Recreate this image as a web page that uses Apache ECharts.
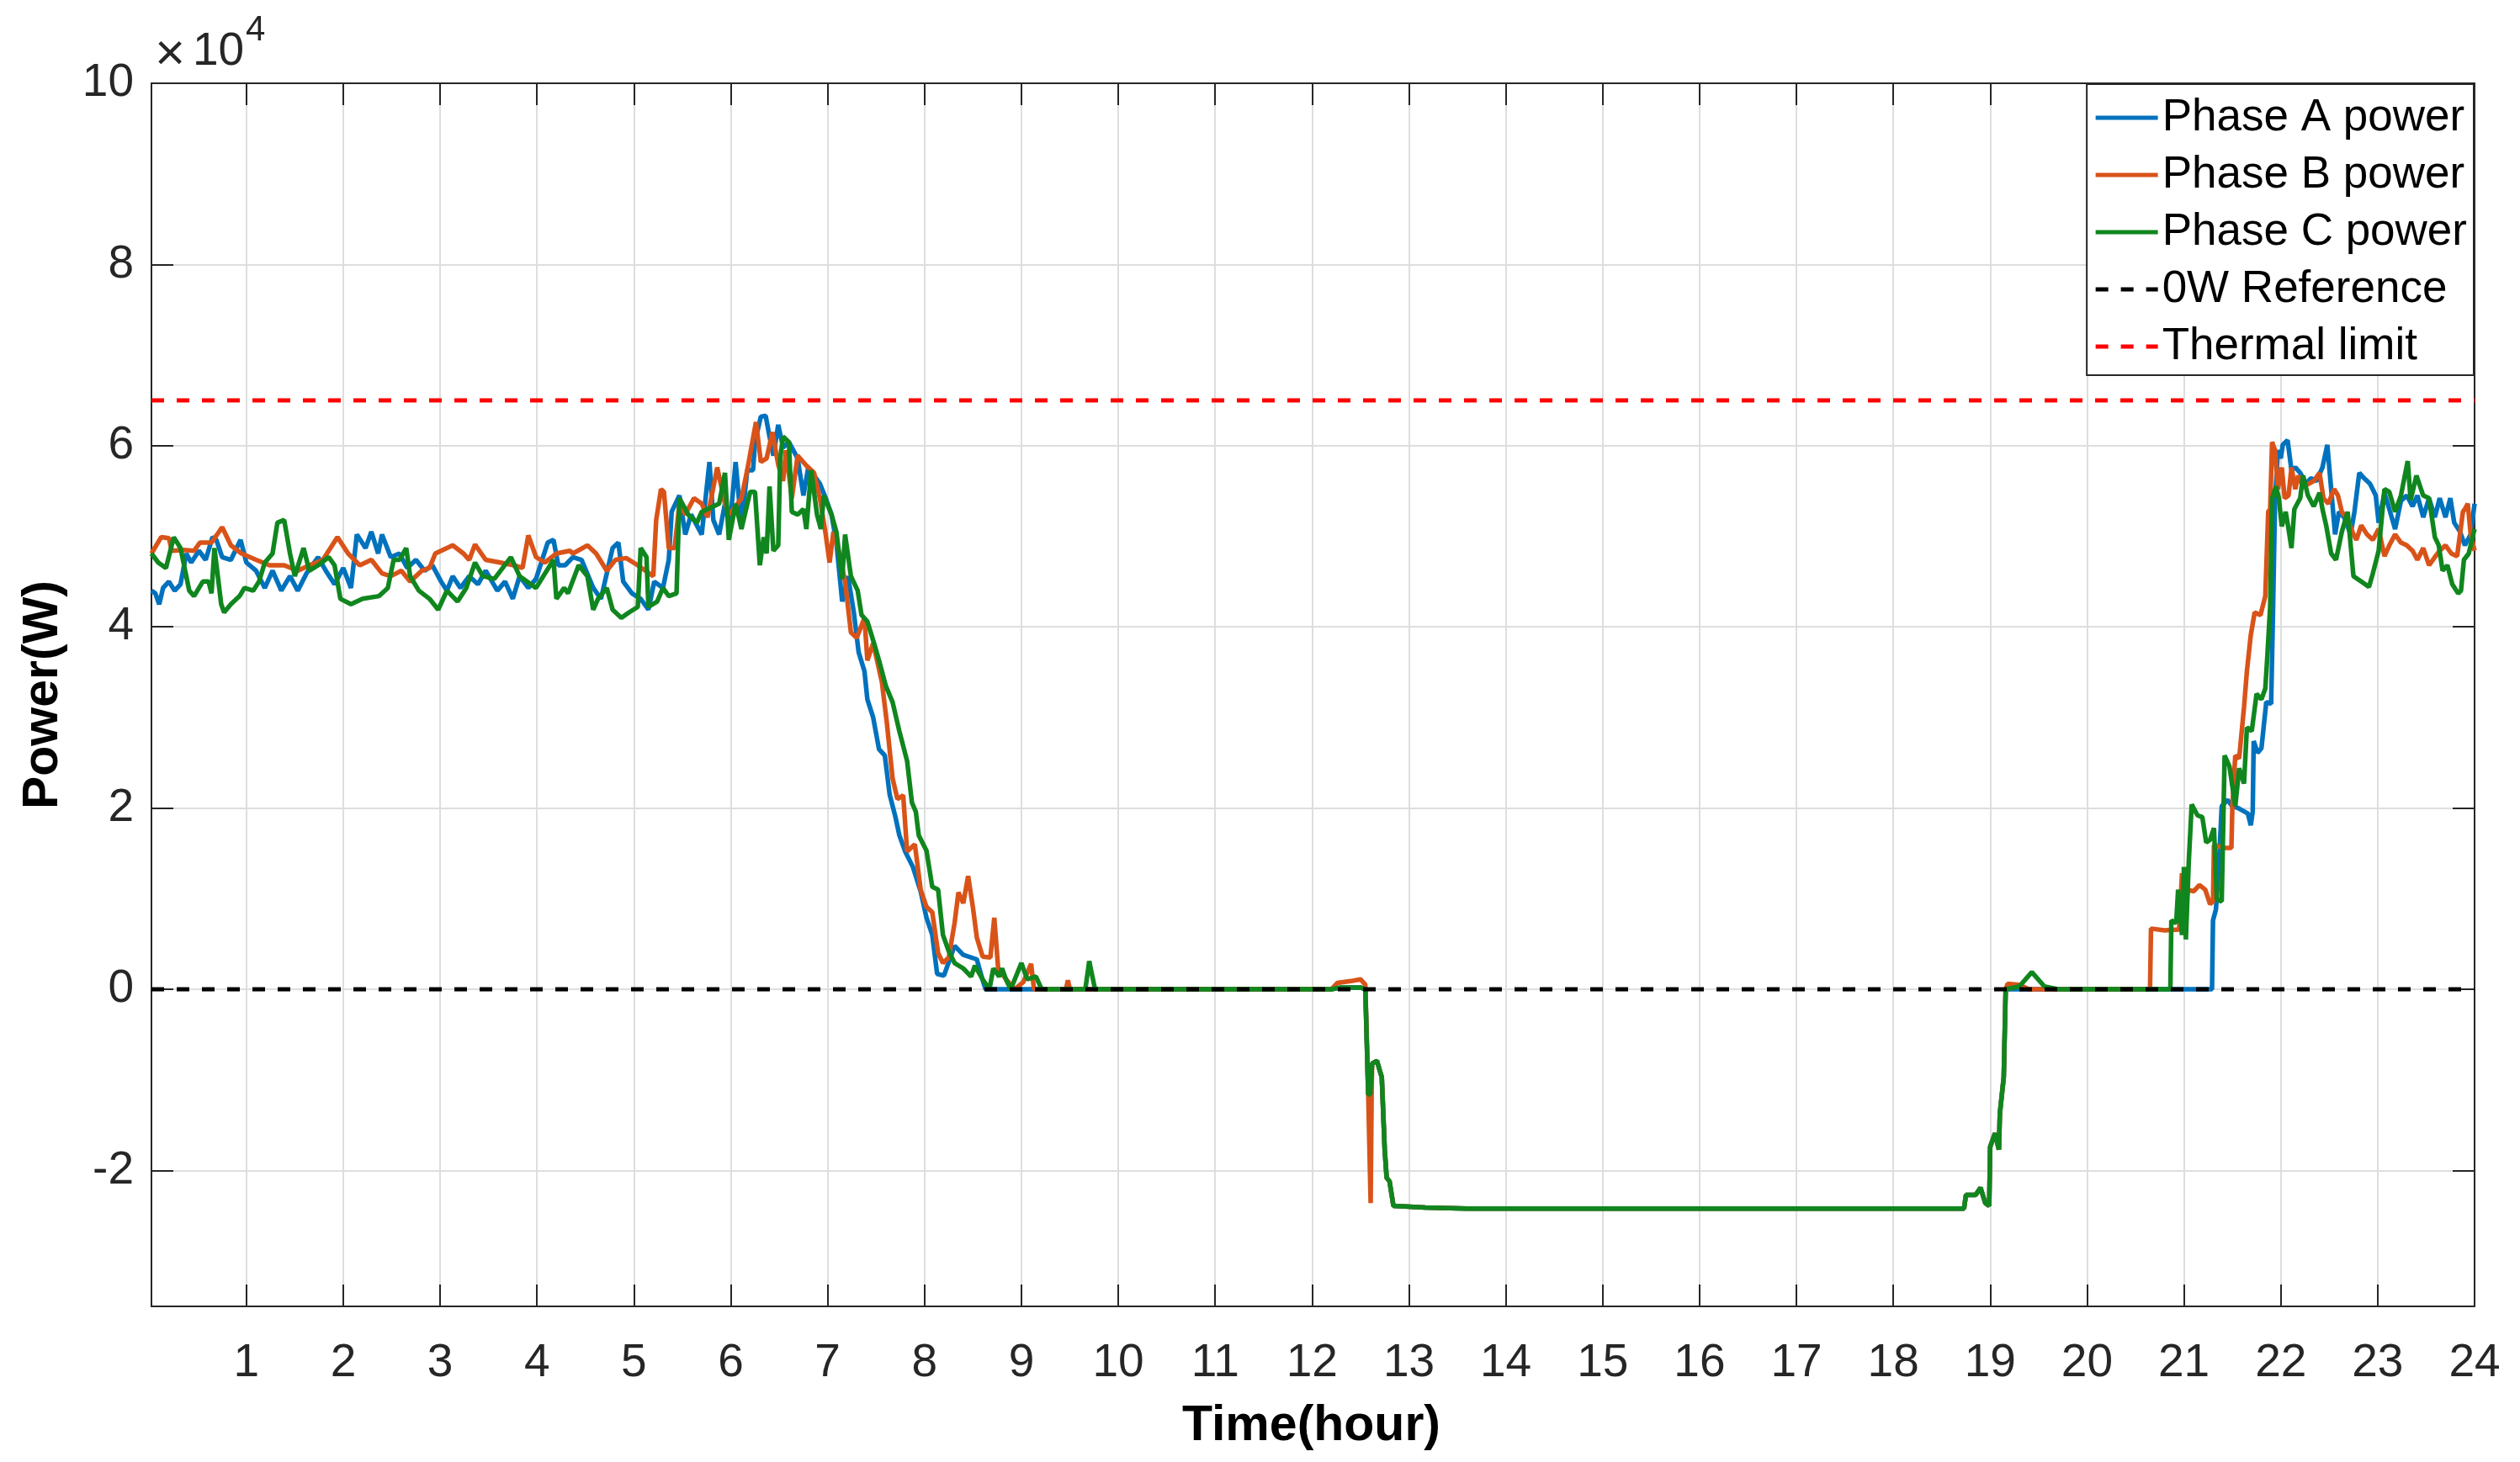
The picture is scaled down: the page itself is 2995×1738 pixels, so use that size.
<!DOCTYPE html>
<html>
<head>
<meta charset="utf-8">
<script src="https://cdn.jsdelivr.net/npm/echarts@6/dist/echarts.min.js"></script>
<style>
  html, body { margin: 0; padding: 0; background: #fff; }
  #ec { width: 2995px; height: 1738px; }
</style>
</head>
<body>
<div id="ec"></div>
<script>
// [hour, power in W]
const phaseA = [
  [0.02, 44000], [0.06, 43700], [0.10, 42500], [0.14, 44300], [0.20, 45000], [0.26, 44000], [0.32, 44700],
  [0.38, 48100], [0.43, 47100], [0.51, 48400], [0.58, 47400], [0.65, 49900], [0.69, 49600], [0.75, 47700],
  [0.84, 47400], [0.94, 49600], [1.00, 47100], [1.10, 46200], [1.19, 44300], [1.27, 46200], [1.36, 44000],
  [1.45, 45600], [1.53, 44000], [1.62, 45900], [1.74, 47700], [1.82, 46200], [1.91, 44700], [2.00, 46500],
  [2.08, 44300], [2.14, 50200], [2.23, 48700], [2.29, 50500], [2.36, 48100], [2.40, 50200], [2.49, 47700],
  [2.58, 48100], [2.66, 46500], [2.75, 47400], [2.84, 46200], [2.92, 46800], [3.01, 45000], [3.07, 44000],
  [3.13, 45600], [3.21, 44300], [3.30, 45600], [3.39, 44700], [3.47, 46200], [3.59, 44000], [3.67, 45000],
  [3.75, 43100], [3.82, 45600], [3.91, 44300], [3.99, 45300], [4.11, 49300], [4.17, 49600], [4.22, 46800],
  [4.29, 46800], [4.37, 47700], [4.46, 47400], [4.58, 44300], [4.66, 43100], [4.78, 48700], [4.84, 49300],
  [4.89, 45000], [4.98, 43700], [5.07, 43100], [5.15, 41900], [5.21, 45000], [5.30, 44300], [5.36, 47400],
  [5.39, 52700], [5.47, 54500], [5.53, 50200], [5.59, 52400], [5.70, 50200], [5.78, 58200], [5.82, 51800],
  [5.88, 50200], [5.94, 53600], [5.99, 51100], [6.05, 58200], [6.11, 51100], [6.17, 57300], [6.23, 57300],
  [6.25, 60400], [6.31, 63200], [6.36, 63300], [6.40, 61000], [6.44, 58900], [6.49, 62300], [6.54, 59800],
  [6.60, 60400], [6.69, 58600], [6.75, 54500], [6.80, 57600], [6.86, 56700], [6.92, 55800], [6.98, 54200],
  [7.04, 52400], [7.09, 49300], [7.15, 42800], [7.21, 45600], [7.27, 41600], [7.32, 37200], [7.38, 35100],
  [7.41, 32000], [7.47, 30000], [7.53, 26500], [7.59, 25800], [7.64, 21500], [7.70, 19000], [7.74, 17000],
  [7.80, 15200], [7.88, 13500], [7.96, 10800], [8.02, 7900], [8.08, 6000], [8.13, 1700], [8.20, 1500],
  [8.25, 3000], [8.31, 4800], [8.40, 3800], [8.54, 3300], [8.60, 1000], [8.63, 0],
  [12.20, 0], [12.30, 200], [12.50, 200], [12.55, 0], [12.58, -11600], [12.60, -11600]
];
const phaseB = [
  [0.02, 48100], [0.12, 49900], [0.20, 49800], [0.23, 48400], [0.35, 48500], [0.46, 48400], [0.52, 49300],
  [0.64, 49300], [0.75, 51000], [0.84, 49000], [0.95, 48100], [1.10, 47400], [1.24, 46800], [1.39, 46800],
  [1.53, 46200], [1.65, 46800], [1.79, 47400], [1.94, 49900], [2.05, 48100], [2.17, 46800], [2.29, 47400],
  [2.40, 45900], [2.49, 45600], [2.60, 46200], [2.69, 45000], [2.81, 46200], [2.89, 46500], [2.95, 48100],
  [3.07, 48700], [3.13, 49000], [3.24, 48100], [3.30, 47400], [3.36, 49100], [3.47, 47400], [3.62, 47100],
  [3.76, 46800], [3.85, 46500], [3.91, 50100], [3.99, 47700], [4.08, 47100], [4.20, 48100], [4.34, 48400],
  [4.37, 48100], [4.52, 49000], [4.61, 48100], [4.72, 46200], [4.81, 47400], [4.92, 47600], [5.04, 46800],
  [5.20, 45600], [5.23, 51800], [5.28, 55200], [5.31, 54900], [5.36, 48700], [5.42, 48700], [5.47, 53600],
  [5.53, 52400], [5.62, 54200], [5.70, 53600], [5.76, 52100], [5.86, 57600], [5.94, 53600], [5.99, 52400],
  [6.11, 54200], [6.17, 57300], [6.26, 62600], [6.31, 58200], [6.37, 58600], [6.43, 61500], [6.49, 57900],
  [6.54, 56100], [6.57, 59500], [6.63, 54200], [6.69, 58900], [6.78, 57800], [6.86, 57000], [6.92, 54200],
  [6.98, 50200], [7.02, 47100], [7.06, 50500], [7.12, 48100], [7.18, 45000], [7.24, 39400], [7.30, 38800],
  [7.38, 41000], [7.41, 36300], [7.47, 38200], [7.56, 33900], [7.61, 29500], [7.67, 23300], [7.72, 21000],
  [7.78, 21400], [7.82, 15200], [7.90, 16000], [7.96, 11000], [8.02, 9100], [8.08, 8500], [8.14, 4000],
  [8.19, 2900], [8.25, 3500], [8.31, 7300], [8.35, 10700], [8.40, 9500], [8.45, 12500], [8.50, 9000],
  [8.54, 5700], [8.60, 3600], [8.68, 3500], [8.72, 7900], [8.76, 2300], [8.85, 1000], [8.93, 0],
  [9.02, 800], [9.10, 2800], [9.13, 0], [9.46, 0], [9.48, 1000], [9.50, 0],
  [12.20, 0], [12.26, 700], [12.40, 900], [12.50, 1100], [12.55, 500], [12.58, -11600], [12.605, -23600],
  [12.615, -11600]
];
const phaseC = [
  [0.02, 48100], [0.09, 47100], [0.17, 46500], [0.25, 49900], [0.32, 48700], [0.41, 44000], [0.46, 43400],
  [0.55, 45000], [0.61, 45000], [0.64, 43700], [0.67, 48700], [0.74, 42500], [0.77, 41600], [0.84, 42500],
  [0.93, 43400], [0.98, 44300], [1.07, 44000], [1.13, 45000], [1.19, 47100], [1.27, 48100], [1.32, 51500],
  [1.39, 51800], [1.45, 48100], [1.50, 45600], [1.59, 48700], [1.65, 46200], [1.74, 46800], [1.85, 47700],
  [1.91, 46800], [1.97, 43100], [2.08, 42500], [2.20, 43100], [2.37, 43400], [2.46, 44300], [2.52, 47400],
  [2.58, 47400], [2.65, 48700], [2.69, 45600], [2.78, 44000], [2.89, 43100], [2.98, 41900], [3.07, 44000],
  [3.18, 42800], [3.27, 44300], [3.36, 47100], [3.44, 45600], [3.56, 45300], [3.73, 47700], [3.82, 45600],
  [3.99, 44300], [4.17, 47400], [4.20, 43100], [4.28, 44300], [4.32, 43700], [4.43, 46800], [4.52, 45600],
  [4.58, 41900], [4.63, 43100], [4.72, 44300], [4.78, 41900], [4.87, 41000], [4.95, 41600], [5.04, 42200],
  [5.07, 48700], [5.13, 47700], [5.15, 42200], [5.24, 42800], [5.30, 44300], [5.36, 43400], [5.44, 43700],
  [5.47, 54200], [5.56, 52400], [5.65, 51500], [5.70, 52700], [5.76, 53000], [5.88, 53600], [5.94, 57000],
  [5.98, 49600], [6.05, 53600], [6.11, 50800], [6.20, 54900], [6.25, 54900], [6.30, 46800], [6.34, 49900],
  [6.37, 48100], [6.40, 55500], [6.44, 48400], [6.49, 49000], [6.51, 58600], [6.54, 61000], [6.60, 60400],
  [6.63, 52700], [6.69, 52400], [6.75, 53000], [6.78, 50800], [6.83, 57300], [6.89, 52400], [6.93, 50800],
  [6.96, 54500], [7.04, 52400], [7.09, 50500], [7.15, 45300], [7.18, 50200], [7.24, 45600], [7.31, 44000],
  [7.35, 41300], [7.41, 40600], [7.47, 38500], [7.53, 36300], [7.60, 33500], [7.67, 31700], [7.74, 28500],
  [7.82, 25200], [7.87, 20600], [7.91, 19600], [7.94, 17000], [8.02, 15300], [8.08, 11300], [8.14, 11000],
  [8.19, 6000], [8.25, 4200], [8.31, 2900], [8.40, 2300], [8.48, 1400], [8.52, 2600], [8.60, 1100],
  [8.67, 0], [8.71, 2300], [8.77, 1400], [8.80, 2300], [8.84, 1100], [8.89, 0], [9.00, 2900], [9.06, 1100],
  [9.15, 1400], [9.21, 0], [9.66, 0], [9.70, 3100], [9.76, 0],
  [12.20, 0], [12.30, 200], [12.50, 200], [12.55, 0], [12.58, -11600], [12.60, -11600]
];
// night section, the three phases lie on top of each other
const discharge = [
  [12.62, -8200], [12.67, -7900], [12.70, -9000], [12.72, -9700], [12.75, -17700], [12.77, -20800],
  [12.80, -21200], [12.84, -23900], [13.17, -24100], [13.60, -24200], [18.73, -24200], [18.75, -22700],
  [18.85, -22700], [18.90, -21900], [18.95, -23600], [18.99, -23900], [19.00, -17400], [19.05, -15900],
  [19.09, -17700], [19.10, -13700], [19.14, -9700], [19.16, 0]
];
const eveningA = [
  [19.30, 0], [21.29, 0], [21.30, 7600], [21.33, 8800], [21.36, 13500], [21.39, 20200], [21.45, 20900],
  [21.50, 20200], [21.56, 20000], [21.66, 19400], [21.69, 18100], [21.71, 19600], [21.72, 27400], [21.76, 26100],
  [21.80, 26600], [21.85, 31700], [21.90, 31500], [21.92, 41900], [21.94, 53600], [21.97, 59500], [22.00, 58600],
  [22.02, 60100], [22.07, 60600], [22.11, 57300], [22.15, 57600], [22.20, 57000], [22.26, 55800], [22.31, 56400],
  [22.37, 56100], [22.43, 57600], [22.48, 60100], [22.52, 55200], [22.56, 50200], [22.60, 52700], [22.66, 52000],
  [22.72, 50200], [22.76, 52700], [22.81, 57000], [22.86, 56400], [22.92, 55800], [22.98, 54500], [23.01, 51500],
  [23.07, 54800], [23.12, 53000], [23.18, 50800], [23.24, 53900], [23.30, 54500], [23.36, 53300], [23.41, 54500],
  [23.47, 52100], [23.53, 54200], [23.59, 52100], [23.64, 54200], [23.70, 52100], [23.75, 54200], [23.79, 51500],
  [23.85, 50500], [23.90, 49000], [23.96, 50200], [24.00, 53600]
];
const eveningB = [
  [19.18, 600], [19.30, 500], [19.40, 0], [20.65, 0], [20.66, 6700], [20.80, 6500], [20.95, 6600], [20.98, 12800],
  [21.00, 6600], [21.04, 11000], [21.10, 10800], [21.16, 11500], [21.22, 11000], [21.27, 9400], [21.30, 9700],
  [21.31, 15900], [21.42, 15600], [21.49, 15600], [21.50, 20200], [21.53, 25800], [21.57, 25500], [21.62, 31100],
  [21.65, 35100], [21.69, 39100], [21.73, 41600], [21.79, 41300], [21.84, 43400], [21.87, 52700], [21.89, 53000],
  [21.91, 60400], [21.94, 59500], [21.97, 55200], [22.01, 57600], [22.04, 54200], [22.08, 54500], [22.11, 57600],
  [22.15, 55200], [22.18, 56700], [22.23, 55500], [22.29, 55800], [22.34, 56100], [22.40, 57000], [22.44, 54200],
  [22.49, 53600], [22.55, 55200], [22.59, 54500], [22.63, 52700], [22.69, 51800], [22.75, 50200], [22.78, 49600],
  [22.83, 51200], [22.89, 50200], [22.95, 49600], [23.01, 50800], [23.07, 47800], [23.12, 49000], [23.18, 50200],
  [23.24, 49300], [23.30, 49000], [23.36, 48400], [23.41, 47400], [23.47, 48700], [23.53, 46800], [23.59, 47700],
  [23.64, 48400], [23.70, 49000], [23.76, 48100], [23.82, 47800], [23.88, 52700], [23.90, 53000], [23.93, 53600],
  [23.96, 50200], [24.00, 48400]
];
const eveningC = [
  [19.30, 300], [19.43, 1900], [19.56, 300], [19.70, 0], [20.86, 0], [20.87, 7600], [20.92, 7300], [20.94, 11000],
  [20.98, 6000], [21.00, 13500], [21.02, 5500], [21.05, 14100], [21.08, 20400], [21.14, 19200], [21.19, 19000],
  [21.23, 16200], [21.27, 16500], [21.31, 17800], [21.34, 9900], [21.39, 9700], [21.42, 25800], [21.47, 24600],
  [21.53, 20200], [21.57, 24400], [21.62, 22700], [21.65, 28900], [21.70, 28500], [21.75, 32600], [21.80, 32000],
  [21.84, 33200], [21.86, 36600], [21.89, 42200], [21.91, 54200], [21.95, 55500], [21.98, 54200], [22.01, 51100],
  [22.05, 52700], [22.08, 50800], [22.11, 48700], [22.14, 53000], [22.20, 54200], [22.23, 56700], [22.28, 54500],
  [22.34, 53300], [22.40, 54800], [22.43, 53000], [22.47, 51100], [22.52, 48100], [22.57, 47400], [22.63, 50500],
  [22.69, 52700], [22.75, 45600], [22.83, 45000], [22.91, 44400], [22.95, 45900], [23.01, 48400], [23.07, 55200],
  [23.12, 54900], [23.18, 52700], [23.24, 54500], [23.31, 58300], [23.34, 54000], [23.40, 56700], [23.47, 54500],
  [23.53, 54200], [23.59, 49900], [23.63, 49000], [23.67, 46200], [23.72, 46800], [23.77, 44700], [23.83, 43700],
  [23.86, 44000], [23.89, 47400], [23.94, 48100], [24.00, 50800]
];
const refHours = [0.02, 24];
const zeroRef = [0, 0];
const thermalLimit = [65000, 65000];
const hourTicks = [1, 2, 3, 4, 5, 6, 7, 8, 9, 10, 11, 12, 13, 14, 15, 16, 17, 18, 19, 20, 21, 22, 23, 24];
const powerTicks = [-20000, 0, 20000, 40000, 60000, 80000, 100000];

const FONT = '"Liberation Sans", Arial, Helvetica, sans-serif';
const AX = '#262626';
const X_MIN = 0.02, X_MAX = 24, Y_MIN = -35000, Y_MAX = 100000;

const chart = echarts.init(document.getElementById('ec'), null, { renderer: 'canvas' });

function xAxisOpt(pos, main) {
  return {
    type: 'value', position: pos, min: X_MIN, max: X_MAX,
    axisLine: { show: true, onZero: false, lineStyle: { color: AX, width: 2 } },
    axisTick: { show: true, inside: true, length: 26, customValues: hourTicks, lineStyle: { color: AX, width: 2 } },
    axisLabel: { show: main, customValues: hourTicks, margin: 40, fontSize: 55, color: AX, fontFamily: FONT },
    splitLine: { show: main, lineStyle: { color: '#dedede', width: 2 } }
  };
}
function yAxisOpt(pos, main) {
  return {
    type: 'value', position: pos, min: Y_MIN, max: Y_MAX,
    axisLine: { show: true, onZero: false, lineStyle: { color: AX, width: 2 } },
    axisTick: { show: true, inside: true, length: 26, customValues: powerTicks, lineStyle: { color: AX, width: 2 } },
    axisLabel: {
      show: main, customValues: powerTicks, margin: 21, fontSize: 55, color: AX, fontFamily: FONT,
      formatter: v => String(v / 10000)
    },
    splitLine: { show: main, lineStyle: { color: '#dedede', width: 2 } }
  };
}
function lineSeries(name, data, color, dashed) {
  return {
    name: name, type: 'line', data: data, symbol: 'none', showSymbol: false,
    xAxisIndex: 0, yAxisIndex: 0, animation: false,
    lineStyle: { color: color, width: dashed ? 5 : 5.5, type: dashed ? [15, 15] : 'solid' },
    itemStyle: { color: color },
    emphasis: { disabled: true }
  };
}

chart.setOption({
  backgroundColor: '#fff',
  animation: false,
  grid: { left: 180, right: 54, top: 99, bottom: 185, containLabel: false },
  xAxis: [xAxisOpt('bottom', true), xAxisOpt('top', false)],
  yAxis: [yAxisOpt('left', true), yAxisOpt('right', false)],
  legend: {
    orient: 'vertical', right: 55, top: 100,
    itemWidth: 74, itemHeight: 20, itemGap: 12,
    padding: [12, 8, 6, 8],
    borderColor: AX, borderWidth: 2, backgroundColor: '#fff',
    selectedMode: false,
    itemStyle: { opacity: 0 },
    lineStyle: { width: 5 },
    textStyle: { fontSize: 53, fontFamily: FONT, color: '#000', lineHeight: 56 },
    data: ['Phase A power', 'Phase B power', 'Phase C power', '0W Reference', 'Thermal limit']
  },
  graphic: [
    { type: 'text', left: 1560 - 155, top: 1666, style: { text: 'Time(hour)', font: 'bold 59px ' + FONT, fill: '#000' } },
    { type: 'text', x: 52, y: 826, rotation: Math.PI / 2,
      style: { text: 'Power(W)', font: 'bold 59px ' + FONT, fill: '#000', align: 'center', verticalAlign: 'middle' } },
    { type: 'text', x: 184, y: 66, style: { text: '\u00d7', font: '62px ' + FONT, fill: AX, verticalAlign: 'middle' } },
    { type: 'text', x: 229, y: 62, style: { text: '10', font: '55px ' + FONT, fill: AX, verticalAlign: 'middle' } },
    { type: 'text', x: 292, y: 36, style: { text: '4', font: '42px ' + FONT, fill: AX, verticalAlign: 'middle' } }
  ],
  series: [
    lineSeries('Phase A power', phaseA.concat(discharge, eveningA), '#0072BD', false),
    lineSeries('Phase B power', phaseB.concat(discharge, eveningB), '#D95319', false),
    lineSeries('Phase C power', phaseC.concat(discharge, eveningC), '#10861E', false),
    lineSeries('0W Reference', refHours.map((h, i) => [h, zeroRef[i]]), '#000000', true),
    lineSeries('Thermal limit', refHours.map((h, i) => [h, thermalLimit[i]]), '#FF0000', true)
  ]
});
</script>
</body>
</html>
